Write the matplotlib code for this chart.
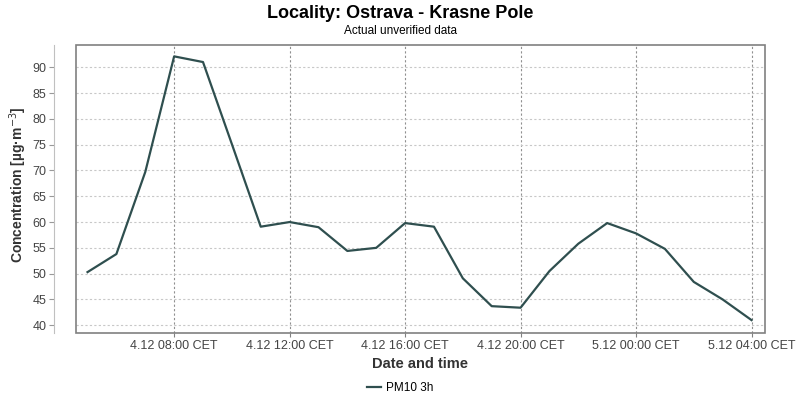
import pandas as pd
import matplotlib
matplotlib.use("Agg")
import matplotlib.pyplot as plt
import matplotlib.dates as mdates
from matplotlib.patches import Rectangle
from matplotlib.ticker import FuncFormatter

# PM10 3h values, hourly, Ostrava - Krasne Pole
times = ["2023-12-04 05:00", "2023-12-04 06:00", "2023-12-04 07:00", "2023-12-04 08:00",
         "2023-12-04 09:00", "2023-12-04 10:00", "2023-12-04 11:00", "2023-12-04 12:00",
         "2023-12-04 13:00", "2023-12-04 14:00", "2023-12-04 15:00", "2023-12-04 16:00",
         "2023-12-04 17:00", "2023-12-04 18:00", "2023-12-04 19:00", "2023-12-04 20:00",
         "2023-12-04 21:00", "2023-12-04 22:00", "2023-12-04 23:00", "2023-12-05 00:00",
         "2023-12-05 01:00", "2023-12-05 02:00", "2023-12-05 03:00", "2023-12-05 04:00"]
pm10 = [50.3, 53.8, 69.7, 92.1, 91.0, 75.1, 59.1, 60.0, 59.0, 54.4, 55.0, 59.8,
        59.1, 49.1, 43.7, 43.4, 50.5, 55.8, 59.8, 57.8, 54.8, 48.4, 45.0, 41.0]
y_ticks = [40, 45, 50, 55, 60, 65, 70, 75, 80, 85, 90]

plt.rcParams['font.family'] = ['Liberation Sans', 'DejaVu Sans']

t = pd.to_datetime(times)

fig = plt.figure(figsize=(8, 4), dpi=100)
ax = fig.add_axes([75.5 / 800, 1 - 333 / 400, (765 - 75.5) / 800, (333 - 44.5) / 400])

line, = ax.plot(t, pm10, color='#2f4f4f', lw=1.6, label='PM10 3h')

ax.set_xlim(t[0] - pd.Timedelta(minutes=25), t[-1] + pd.Timedelta(minutes=28))
ax.set_ylim(38.5, 94.4)

ax.xaxis.set_major_locator(mdates.HourLocator(byhour=[0, 4, 8, 12, 16, 20]))
ax.xaxis.set_major_formatter(FuncFormatter(
    lambda v, pos: (lambda d: f"{d.day}.{d.month} {d:%H:%M} CET")(mdates.num2date(v))))
ax.set_yticks(y_ticks)

# grid
ax.grid(axis='y', color='#c8c8c8', ls=(0, (2, 2)), lw=0.8)
ax.grid(axis='x', color='#909090', ls=(0, (2, 2)), lw=0.8)

# frame and offset y axis (22 px left of the plot box)
for s in ['top', 'right', 'bottom']:
    ax.spines[s].set_visible(False)
ax.spines['left'].set_position(('outward', 22 * 0.72))
ax.spines['left'].set_color('#c0c0c0')
ax.add_patch(Rectangle((0, 0), 1, 1, transform=ax.transAxes, fill=False,
                       edgecolor='#808080', lw=1.2, zorder=5, clip_on=False))

ax.tick_params(axis='y', length=3.5, color='#999999', labelsize=9, labelcolor='#444444', pad=1.5)
ax.tick_params(axis='x', length=3, color='#808080', labelsize=9, labelcolor='#444444', pad=2)

ax.set_xlabel('Date and time', fontsize=10.5, fontweight='bold', color='#333333', labelpad=4)
ax.set_ylabel('Concentration [µg·m$^{-3}$]', fontsize=10, fontweight='bold', color='#333333')
ax.yaxis.set_label_coords((29 - 75.5) / 689.5, 0.513)

fig.text(0.5, 1 - 13 / 400, 'Locality: Ostrava - Krasne Pole', ha='center', va='center',
         fontsize=13, fontweight='bold')
fig.text(0.5, 1 - 31 / 400, 'Actual unverified data', ha='center', va='center', fontsize=8.5)

fig.legend(handles=[line], loc='center', bbox_to_anchor=(0.5, 1 - 388 / 400), frameon=False,
           fontsize=8.5, handlelength=1.2, handletextpad=0.4)

fig.savefig('out.png', dpi=100)
